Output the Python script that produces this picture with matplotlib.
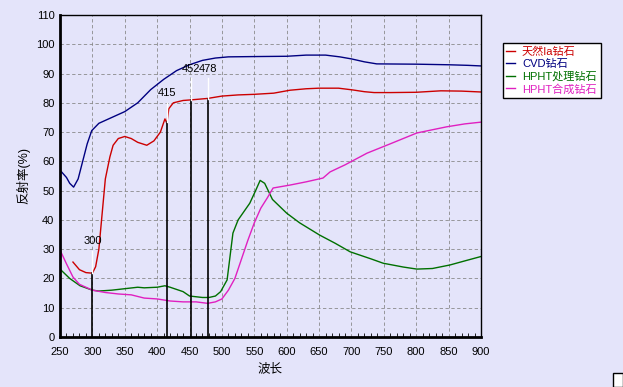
import matplotlib
matplotlib.use("Agg")
import matplotlib.pyplot as plt
from matplotlib.ticker import MultipleLocator
from matplotlib.patches import Rectangle

plt.rcParams['font.family'] = ['Liberation Sans', 'Noto Sans CJK SC', 'DejaVu Sans']

# wavelength (nm) / reflectance (%)
ia_x = [270, 280, 290, 300, 305, 310, 315, 320, 327, 332, 340, 350, 360, 370, 384, 395, 405, 412, 415, 418,
        425, 440, 452, 478, 500, 525, 550, 580, 605, 630, 650, 680, 702, 720, 735, 760, 800, 838, 870, 900]
ia_y = [25.6, 23.0, 22.0, 21.8, 24.0, 30.0, 42.0, 54.0, 61.5, 65.5, 67.8, 68.5, 67.8, 66.5, 65.5, 67.0, 70.0, 74.5, 73.0, 78.0,
        80.0, 80.8, 81.0, 81.5, 82.3, 82.7, 82.9, 83.3, 84.3, 84.8, 85.0, 85.0, 84.4, 83.8, 83.5, 83.5, 83.6, 84.1, 84.0, 83.7]

cvd_x = [250, 260, 265, 271, 278, 285, 292, 299, 310, 330, 350, 370, 390, 410, 430, 450, 470, 490, 510,
         550, 600, 630, 660, 682, 700, 720, 739, 800, 850, 880, 900]
cvd_y = [57.0, 54.5, 52.5, 51.2, 54.0, 60.0, 66.0, 70.5, 73.0, 75.0, 77.0, 80.0, 84.5, 88.0, 91.0, 93.0, 94.5, 95.3, 95.7,
         95.8, 95.9, 96.3, 96.3, 95.7, 95.0, 94.0, 93.3, 93.2, 93.0, 92.8, 92.6]

hpht_t_x = [250, 265, 281, 300, 310, 330, 350, 370, 380, 400, 412, 420, 440, 450, 470, 480, 490, 498,
            508, 517, 525, 543, 552, 559, 566, 578, 600, 620, 651, 675, 698, 730, 749, 780, 801, 825, 852, 875, 900]
hpht_t_y = [23.2, 20.0, 17.5, 16.0, 15.7, 16.0, 16.5, 17.0, 16.8, 17.0, 17.5, 17.0, 15.5, 14.0, 13.5, 13.5, 14.0, 15.5,
            19.5, 35.5, 40.0, 45.7, 50.0, 53.5, 52.5, 47.0, 42.3, 39.0, 34.8, 32.0, 29.1, 26.7, 25.2, 23.9, 23.2, 23.4, 24.6, 26.0, 27.5]

hpht_s_x = [250, 260, 270, 280, 300, 320, 340, 360, 380, 400, 420, 440, 460, 478, 490, 500, 510, 520,
            530, 540, 550, 560, 570, 579, 605, 630, 656, 667, 690, 724, 760, 801, 847, 875, 900]
hpht_s_y = [29.7, 25.0, 20.5, 18.0, 16.0, 15.2, 14.7, 14.4, 13.3, 13.0, 12.3, 12.0, 12.0, 11.5, 12.0, 13.0, 16.0, 20.0,
            26.5, 33.0, 39.0, 44.0, 47.5, 50.9, 51.9, 53.0, 54.3, 56.4, 58.8, 62.8, 66.0, 69.7, 71.8, 72.8, 73.4]

# marked wavelengths, value where the black line ends, label height
mark_x = [300, 415, 452, 478]
mark_top = [22.0, 73.5, 81.0, 81.3]
mark_lbl = [31.0, 81.5, 90.0, 90.0]
mark_txt = ["300", "415", "452", "478"]

bg = "#E4E4FA"
fig = plt.figure(figsize=(6.23, 3.87), dpi=100, facecolor=bg)
ax = fig.add_axes([60 / 623, 50 / 387, 421 / 623, 322 / 387], facecolor=bg)

ax.plot(ia_x, ia_y, color="#CC0000", lw=1, label="天然Ia钻石")
ax.plot(cvd_x, cvd_y, color="#000080", lw=1, label="CVD钻石")
ax.plot(hpht_t_x, hpht_t_y, color="#007000", lw=1, label="HPHT处理钻石")
ax.plot(hpht_s_x, hpht_s_y, color="#E020C0", lw=1, label="HPHT合成钻石")

for x, top, lbl, t in zip(mark_x, mark_top, mark_lbl, mark_txt):
    ax.plot([x, x], [0, top], color="black", lw=1.2, zorder=4)
    ax.plot([x, x], [top, lbl - 1.5], color="white", lw=1, zorder=4)
    ax.text(x, lbl, t, ha="center", va="bottom", fontsize=8, zorder=5)

ax.set_xlim(250, 900)
ax.set_ylim(0, 110)
ax.xaxis.set_major_locator(MultipleLocator(50))
ax.xaxis.set_minor_locator(MultipleLocator(10))
ax.yaxis.set_major_locator(MultipleLocator(10))
ax.grid(True, which="major", color="#8A8A8A", ls=(0, (4, 3)), lw=0.6)
ax.tick_params(axis="y", which="major", labelsize=8, length=0, pad=4)
ax.tick_params(axis="x", which="major", labelsize=8, length=0, pad=7, direction="in")
ax.tick_params(axis="x", which="minor", direction="in", length=3, width=0.6)
for s in ["left", "bottom"]:
    ax.spines[s].set_linewidth(2)
for s in ["top", "right"]:
    ax.spines[s].set_linewidth(1)

ax.set_xlabel("波长", fontsize=9, labelpad=5)
ax.set_ylabel("反射率(%)", fontsize=9, labelpad=4)

leg = fig.legend(loc="upper left", bbox_to_anchor=(497 / 623, 1 - 37 / 387), fontsize=8,
                 handlelength=0.8, handletextpad=0.6, borderpad=0.35, labelspacing=0.2,
                 frameon=True, fancybox=False, edgecolor="black", facecolor="white", framealpha=1)
leg.get_frame().set_linewidth(1)
for line, txt in zip(leg.get_lines(), leg.get_texts()):
    txt.set_color(line.get_color())

fig.patches.append(Rectangle((613 / 623, 0), 10 / 623, 14 / 387, transform=fig.transFigure,
                             facecolor="white", edgecolor="black", lw=1))

fig.savefig("out.png", dpi=100, facecolor=bg)
